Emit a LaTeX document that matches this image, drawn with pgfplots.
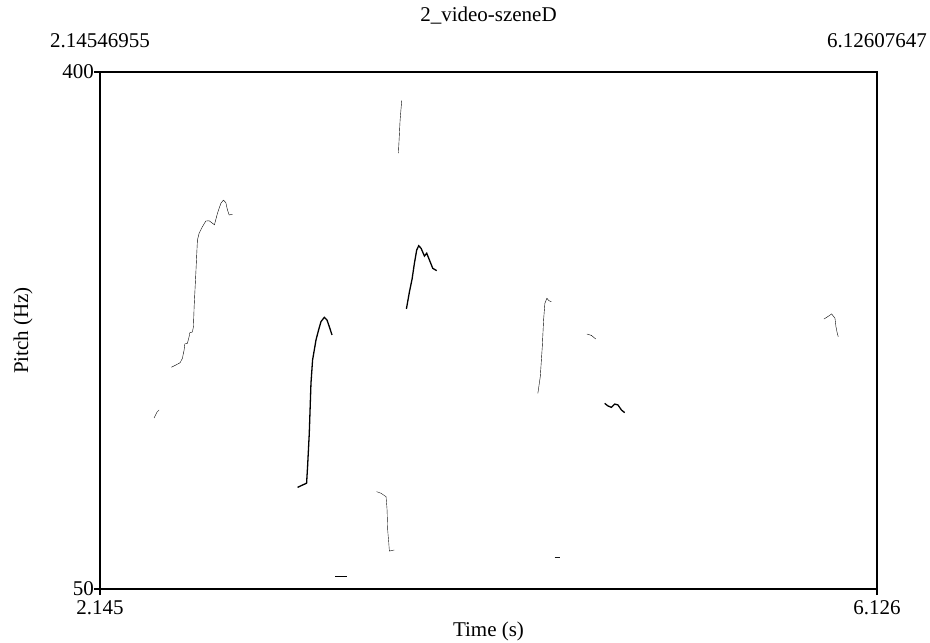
\documentclass[border=0pt]{standalone}
\usepackage{fontspec}
\setmainfont{Liberation Serif}
\usepackage{pgfplots}
\pgfplotsset{compat=1.18}
\begin{document}
\fontsize{21}{25}\selectfont
\begin{tikzpicture}
\begin{axis}[
  name=ax,
  scale only axis, width=777pt, height=517pt,
  xmin=2.14546955, xmax=6.12607647, ymin=50, ymax=400,
  axis line style={line width=1.6pt},
  xtick={2.14546955,6.12607647}, xticklabels={2.145,6.126},
  ytick={50,400}, yticklabels={50,400},
  tick align=outside, xtick pos=bottom, ytick pos=left,
  major tick length=6pt, tick style={line width=1.4pt, black},
  xticklabel style={anchor=north, inner sep=0pt, yshift=-5pt},
  yticklabel style={anchor=east, inner sep=0pt},
  xlabel={Time (s)}, ylabel={Pitch (Hz)},
  xlabel style={at={(rel axis cs:0.5,0)}, anchor=base, yshift=-47pt},
  ylabel style={at={(rel axis cs:0,0.5)}, anchor=center, yshift=77pt},
  title={2\_video-szeneD},
  title style={at={(rel axis cs:0.5,1)}, anchor=base, yshift=44pt},
  cycle list={{black!90, solid, line width=1.3pt, no markers}},
  clip=false,
]
\addplot coordinates {(2.4225,165.8)(2.4379,169.8)(2.4481,171.2)};
\addplot coordinates {
(2.5112,200.1)(2.5338,201.6)(2.5559,203.2)(2.5677,206.2)(2.5764,211.8)
(2.5800,215.9)(2.5933,216.3)(2.6020,220.8)(2.6056,223.5)(2.6190,224.0)
(2.6241,227.6)(2.6277,241.1)(2.6364,263.7)(2.6446,286.3)(2.6533,290.8)
(2.6703,295.3)(2.6877,299.1)(2.7046,299.3)(2.7216,297.6)(2.7318,296.6)
(2.7472,304.3)(2.7647,311.1)(2.7780,313.3)(2.7903,311.5)(2.7985,306.6)
(2.8072,303.2)(2.8242,303.7)};
\addplot coordinates {
(3.1576,118.8)(3.1832,120.4)(3.2038,121.6)(3.2089,132.8)(3.2176,155.4)
(3.2263,189.3)(3.2345,205.0)(3.2433,211.8)(3.2520,218.6)(3.2653,225.3)
(3.2776,231.0)(3.2946,233.9)(3.3084,232.1)(3.3202,227.6)(3.3341,222.0)};
\addplot coordinates {(3.3510,58.8)(3.4125,58.8)};
\addplot coordinates {
(3.5628,115.9)(3.5854,114.8)(3.6111,112.5)(3.6162,103.5)(3.6193,89.9)
(3.6244,82.0)(3.6280,75.7)(3.6536,76.4)};
\addplot coordinates {(3.6742,345.0)(3.6829,367.5)(3.6911,380.6)};
\addplot coordinates {
(3.7152,239.6)(3.7306,251.1)(3.7444,259.9)(3.7562,270.5)(3.7680,279.5)
(3.7783,282.4)(3.7906,280.6)(3.8075,275.4)(3.8193,277.3)(3.8332,272.7)
(3.8501,267.1)(3.8706,265.5)};
\addplot coordinates {
(4.3887,182.5)(4.4010,193.7)(4.4113,214.0)(4.4180,232.1)(4.4246,243.4)
(4.4349,246.8)(4.4452,245.2)(4.4575,244.5)};
\addplot coordinates {(4.4744,71.5)(4.5036,71.5)};
\addplot coordinates {(4.6401,222.6)(4.6626,221.7)(4.6847,219.3)};
\addplot coordinates {
(4.7309,175.7)(4.7478,173.9)(4.7653,173.0)(4.7822,175.2)(4.7991,174.6)
(4.8165,171.2)(4.8335,169.4)};
\addplot coordinates {
(5.8543,232.8)(5.8681,233.9)(5.8938,236.2)(5.9107,233.3)(5.9158,227.6)
(5.9225,223.1)(5.9276,220.8)};
\node[anchor=base, inner sep=0pt, yshift=24pt] at (rel axis cs:0,1) {2.14546955};
\node[anchor=base, inner sep=0pt, yshift=24pt] at (rel axis cs:1,1) {6.12607647};
\end{axis}
\pgfresetboundingbox
\path ([shift={(-100pt,-54pt)}]ax.south west) rectangle ([shift={(53pt,72pt)}]ax.north east);
\end{tikzpicture}
\end{document}
